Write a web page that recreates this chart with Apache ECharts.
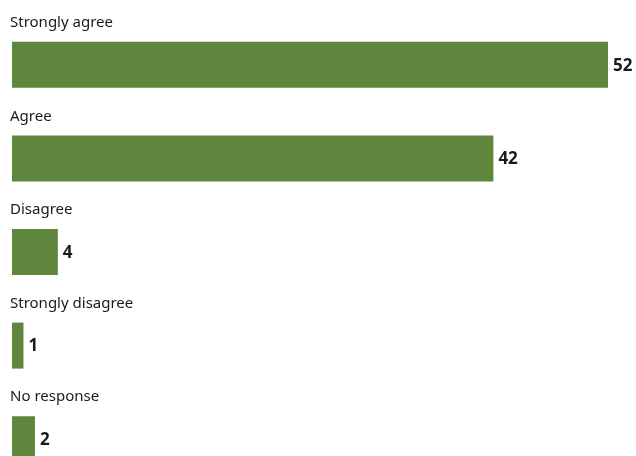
<!DOCTYPE html>
<html>
<head>
<meta charset="utf-8">
<script src="https://cdn.jsdelivr.net/npm/echarts@6/dist/echarts.min.js"></script>
<style>html,body{margin:0;padding:0;background:#fff}#c{width:636px;height:456px}</style>
</head>
<body>
<div id="c"></div>
<script>
var categories = ["Strongly agree", "Agree", "Disagree", "Strongly disagree", "No response"];
var values = [52, 42, 4, 1, 2];

var chart = echarts.init(document.getElementById('c'));
chart.setOption({
  animation: false,
  grid: { left: 12, top: 18, width: 596, height: 468, containLabel: false, outerBoundsMode: 'none' },
  xAxis: { type: 'value', min: 0, max: 52, show: false },
  yAxis: { type: 'category', data: categories, inverse: true, show: false },
  series: [
    {
      type: 'bar',
      data: values,
      barWidth: 46,
      itemStyle: { color: '#5e863d' },
      label: {
        show: true, position: 'right', distance: 5, offset: [0, 1],
        fontFamily: 'Noto Sans', fontSize: 17, fontWeight: 'bold', color: '#1a1a1a'
      }
    },
    {
      type: 'bar',
      data: values,
      barWidth: 46,
      barGap: '-100%',
      itemStyle: { color: 'rgba(0,0,0,0)' },
      silent: true,
      label: {
        show: true, position: [-2, -19], align: 'left', verticalAlign: 'middle',
        formatter: '{b}',
        fontFamily: 'Noto Sans', fontSize: 15, color: '#1a1a1a'
      }
    }
  ]
});
</script>
</body>
</html>
